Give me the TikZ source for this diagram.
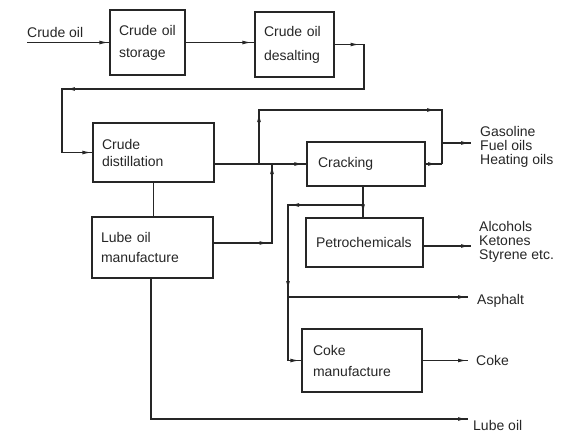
\documentclass[tikz,border=0pt]{standalone}
\usepackage{fontspec}
\setmainfont{Liberation Sans}
\usetikzlibrary{arrows.meta,decorations.markings}
\newcommand\AR{\arrow{myarr}}
\tikzset{
  myarr/.tip={Latex[length=9pt,width=3.8pt]},
  ln/.style={draw=black!85,line width=1.1pt},
  box/.style={ln,rectangle,inner xsep=9pt,inner ysep=0pt,align=left,text=black!85},
  lbl/.style={inner sep=0pt,align=left,text=black!85,font=\fontsize{14}{14}\selectfont},
  am/.style={postaction={decorate,decoration={markings,mark=at position #1 with {\AR}}}},
  am2/.style n args={2}{postaction={decorate,decoration={markings,mark=at position #1 with {\AR},mark=at position #2 with {\AR}}}},
  am3/.style n args={3}{postaction={decorate,decoration={markings,mark=at position #1 with {\AR},mark=at position #2 with {\AR},mark=at position #3 with {\AR}}}},
}
\begin{document}
\begin{tikzpicture}[x=1pt,y=-1pt]
\useasboundingbox (0,0) rectangle (575,434);
% boxes
\node[box,text width=57pt,minimum height=65pt,font=\fontsize{14}{22}\selectfont] (storage) at (147.5,42.5) {Crude oil\\storage};
\node[box,text width=61pt,minimum height=65pt,font=\fontsize{14}{24}\selectfont] (desalt) at (294.5,44.5) {Crude oil\\desalting};
\node[box,text width=103pt,minimum height=59pt,font=\fontsize{14}{17}\selectfont] (distill) at (153.5,152.5) {Crude\\distillation};
\node[box,text width=103pt,minimum height=61pt,font=\fontsize{14}{20}\selectfont] (lube) at (152.5,247.5) {Lube oil\\manufacture};
\node[box,inner xsep=11pt,text width=96pt,minimum height=44pt,font=\fontsize{14}{17}\selectfont] (crack) at (366,164) {Cracking};
\node[box,inner xsep=10pt,text width=97pt,minimum height=49pt,font=\fontsize{14}{17}\selectfont] (petro) at (364.5,242.5) {Petrochemicals};
\node[box,inner xsep=11pt,text width=98pt,minimum height=63pt,font=\fontsize{14}{21}\selectfont] (coke) at (362,360.5) {Coke\\manufacture};
% labels
\node[lbl,anchor=base west] (lcrude) at (27,37) {Crude oil};
\node[lbl,anchor=west] (lgas) at (480,147) {Gasoline\\Fuel oils\\Heating oils};
\node[lbl,anchor=west] (lalc) at (479,242) {Alcohols\\Ketones\\Styrene etc.};
\node[lbl,anchor=base west] (lasp) at (477,304) {Asphalt};
\node[lbl,anchor=base west] (lcoke) at (476,365) {Coke};
\node[lbl,anchor=base west] (llube) at (473,430) {Lube oil};
% coordinates
\coordinate (crudein) at (27,42.5);
\coordinate (r1) at (364,44.5);
\coordinate (r2) at (364,89);
\coordinate (r3) at (62,89);
\coordinate (r4) at (62,152.5);
\coordinate (j1) at (259,164);
\coordinate (c1) at (442,110);
\coordinate (c2) at (442,164);
\coordinate (c3) at (442,143);
\coordinate (gasend) at (471,143);
\coordinate (l1) at (272,243);
\coordinate (j4) at (272,164);
\coordinate (j2) at (363,205);
\coordinate (d1) at (288,205);
\coordinate (j3) at (288,297);
\coordinate (aspend) at (468,297);
\coordinate (petend) at (471,246);
\coordinate (cokeend) at (468,360.5);
\coordinate (loend) at (468,419);
% connectors
\draw[ln,am=-1pt] (crudein) -- (storage.west);
\draw[ln,am=-3pt] (storage.east) -- (storage.east -| desalt.west);
\draw[ln,am3={25pt}{372pt}{-1pt}] (desalt.east) -- (r1) -- (r2) -- (r3) -- (r4) -- (distill.west);
\draw[ln,am=-3pt] (distill.east |- crack.west) -- (crack.west);
\draw[ln,am2={51pt}{231pt}] (j1) |- (c1) -- (c2);
\draw[ln,am=-5pt] (crack.east) -- (c2);
\draw[ln,am=-1pt] (c3) -- (gasend);
\draw[ln,am2={55pt}{-1pt}] (lube.east |- l1) -- (l1) -- (j4);
\draw[ln] (distill.south) -- (distill.south |- lube.north);
\draw[ln,am=-4pt] ([xshift=-3pt]crack.south) -- ([xshift=-3pt]crack.south |- petro.north);
\draw[ln,am3={73pt}{160pt}{-2pt}] (j2) -- (d1) |- (coke.west);
\draw[ln,am=-1pt] (j3) -- (aspend);
\draw[ln,am=-1pt] (petro.east |- petend) -- (petend);
\draw[ln,am=-1pt] (coke.east) -- (cokeend);
\draw[ln,am=-1pt] ([xshift=-1.5pt]lube.south) |- (loend);
\end{tikzpicture}
\end{document}
